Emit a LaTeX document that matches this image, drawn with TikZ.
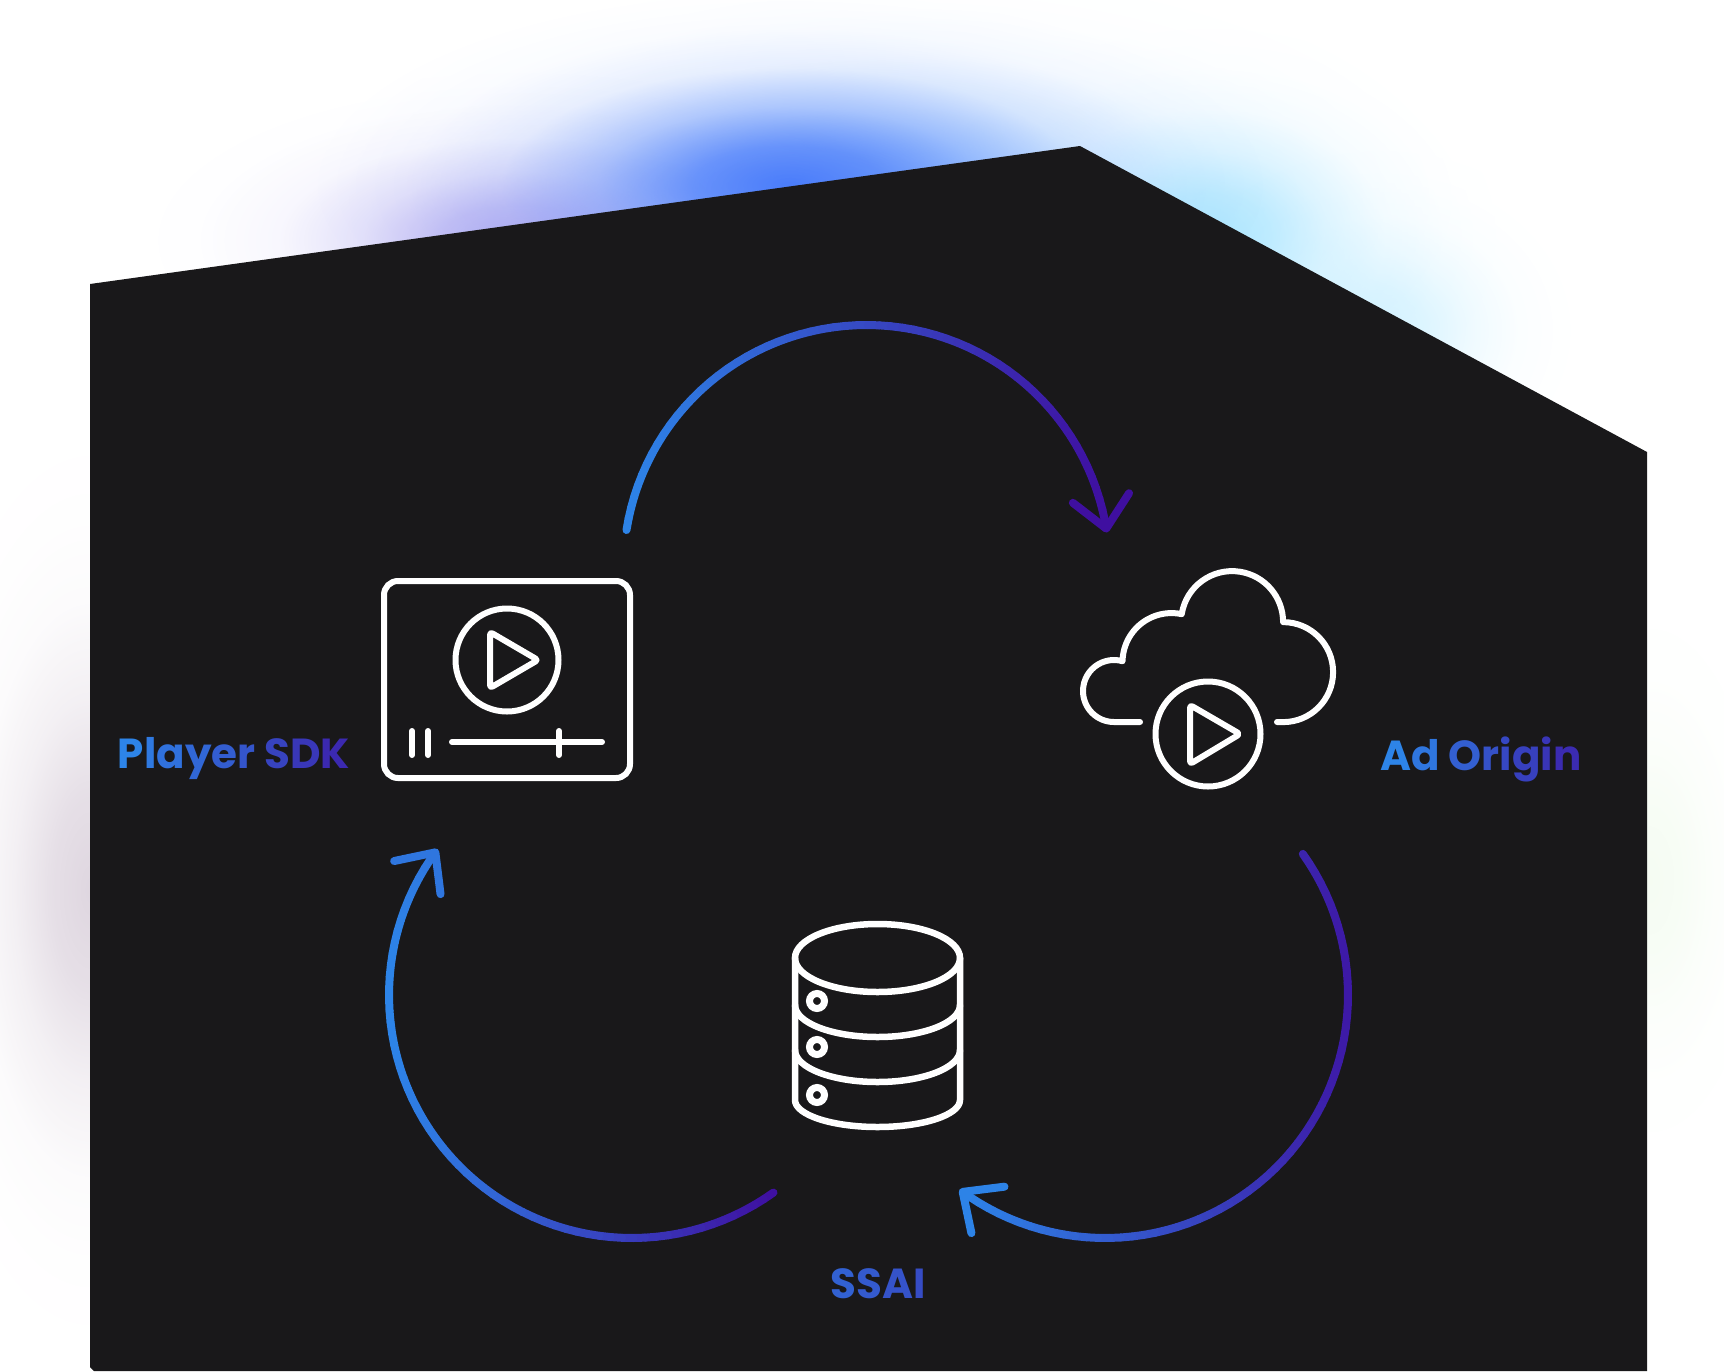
\documentclass[tikz,border=0pt]{standalone}
\usepackage{fontspec}
\setmainfont{Poppins}
\usetikzlibrary{calc,fadings,arrows.meta,shapes.geometric}

\definecolor{flowblue}{HTML}{2D84E8}
\definecolor{flowviolet}{HTML}{3F0FA0}
\definecolor{panel}{HTML}{19181A}
\definecolor{glowblue}{HTML}{4A7CFA}
\definecolor{glowsky}{HTML}{9CCBFF}
\definecolor{glowcyan}{HTML}{86DBFF}
\definecolor{glowviolet}{HTML}{8D84EA}
\definecolor{glowplum}{HTML}{C9BBCB}
\definecolor{glowgreen}{HTML}{DDF5D5}

\pgfdeclareradialshading{glowshade}{\pgfpoint{0bp}{0bp}}{rgb(0bp)=(1,1,1); rgb(5bp)=(0.78,0.78,0.78); rgb(10bp)=(0.37,0.37,0.37); rgb(15bp)=(0.1,0.1,0.1); rgb(20bp)=(0.02,0.02,0.02); rgb(25bp)=(0,0,0); rgb(50bp)=(0,0,0)}
\pgfdeclarefading{glowfade}{\pgfuseshading{glowshade}}

\tikzset{
    glow/.style={path fading=glowfade, fit fading=true},
    iconline/.style={draw=white, line width=6pt, line cap=round, line join=round},
    iconring/.style={draw=white, line width=6pt, circle, inner sep=0pt, outer sep=0pt, minimum size=#1},
    steplabel/.style={font=\fontsize{42}{42}\selectfont\bfseries, inner sep=0pt, anchor=base},
    flowseg/.style={line width=8pt, line cap=round}
}

% gradient arc, cut into short pieces: centre, from angle, to angle, cos at left end, cos at right end
\newcommand{\flowarc}[5]{
    \foreach \i in {1,...,60}{
        \pgfmathsetmacro{\anga}{#2+(#3-#2)*(\i-1)/60}
        \pgfmathsetmacro{\angb}{#2+(#3-#2)*\i/60}
        \pgfmathsetmacro{\mixval}{100*(cos((\anga+\angb)/2)-(#4))/((#5)-(#4))}
        \colorlet{segcol}{flowviolet!\mixval!flowblue}
        \ifnum\i=60
            \draw[flowseg, segcol, -{Straight Barb[round, length=31pt, width=57pt]}] ($(#1)+(\anga:243)$) -- ($(#1)+(\angb:243)$);
        \else
            \draw[flowseg, segcol] ($(#1)+(\anga:243)$) -- ($(#1)+(\angb:243)$);
        \fi
    }
}
\newcommand{\gradletter}[2]{\textcolor{flowviolet!#1!flowblue}{#2}}

\begin{document}
\begin{tikzpicture}[x=1pt, y=-1pt]

\useasboundingbox (0,0) rectangle (1724,1371);

% soft light behind the panel
\fill[glow, glowsky, fill opacity=.8] (900,200) ellipse (560 and 240);
\fill[glow, glowcyan, fill opacity=.65] (1210,235) ellipse (290 and 210);
\fill[glow, glowcyan, fill opacity=.35] (1380,330) ellipse (230 and 190);
\fill[glow, glowviolet, fill opacity=.65] (520,240) ellipse (400 and 170);
\fill[glow, glowblue] (790,185) ellipse (480 and 195);
\fill[glow, glowplum, fill opacity=.6] (90,890) ellipse (190 and 480);
\fill[glow, glowgreen, fill opacity=.3] (1650,880) ellipse (150 and 340);

\fill[panel] (90,284) -- (1080,146) -- (1647,452) -- (1647,1371) -- (94,1371) -- (90,1367) -- cycle;

% player
\node[draw=white, line width=6pt, inner sep=0pt, outer sep=0pt, rounded corners=14pt, minimum width=246pt, minimum height=197pt] (player) at (507,679.5) {};
\node[iconring=103pt] (playerring) at (507,660) {};
\draw[iconline, rounded corners=3pt] (490,632) -- (490,688) -- (538,660) -- cycle;
\draw[iconline] (412,731) -- (412,755);
\draw[iconline] (428,731) -- (428,755);
\draw[iconline] (452,742) -- (602,742);
\draw[iconline] (559,731) -- (559,755);

% cloud
\draw[iconline] (1140,722) -- (1114,722) arc (90:286:31) arc (181:282:49) arc (189:360:51) arc (270:450:50) -- (1277,722);
\node[iconring=105pt] (cloudring) at (1208,734) {};
\draw[iconline, rounded corners=3pt] (1190,705) -- (1190,764) -- (1240,734) -- cycle;

% database
\node[draw=white, line width=6.5pt, ellipse, inner sep=0pt, outer sep=0pt, minimum width=165pt, minimum height=68pt] (dbtop) at (877.5,958) {};
\draw[iconline, line width=6.5pt] (795,958) -- (795,1100) arc (180:0:82.5 and 27) -- (960,958);
\draw[iconline, line width=6.5pt] (795,1005) arc (180:0:82.5 and 32);
\draw[iconline, line width=6.5pt] (795,1050) arc (180:0:82.5 and 32);
\foreach \y/\n in {1001/a,1047/b,1095/c}{
    \node[draw=white, line width=7pt, circle, inner sep=0pt, outer sep=0pt, minimum size=15pt] (dbdot\n) at (817,\y) {};
}

% labels
\node[steplabel] (sdklabel) at (234,768) {\gradletter{0}{P}\gradletter{9}{l}\gradletter{16}{a}\gradletter{25}{y}\gradletter{33}{e}\gradletter{40}{r} \gradletter{56}{S}\gradletter{66}{D}\gradletter{78}{K}};
\node[steplabel] (originlabel) at (1481,770) {\gradletter{0}{A}\gradletter{12}{d} \gradletter{32}{O}\gradletter{44}{r}\gradletter{52}{i}\gradletter{58}{g}\gradletter{68}{i}\gradletter{76}{n}};
\node[steplabel] (ssailabel) at (878,1298) {\gradletter{30}{S}\gradletter{36}{S}\gradletter{42}{A}\gradletter{48}{I}};

% flow arcs
\coordinate (toparc) at (866.5,568);
\coordinate (rightarc) at (1105,995);
\coordinate (leftarc) at (632,995);
\flowarc{toparc}{189}{351.6}{-0.99}{0.99}
\flowarc{rightarc}{-35.5}{126.8}{-0.6}{1.15}
\flowarc{leftarc}{54.4}{216.9}{-1}{0.58}

\end{tikzpicture}
\end{document}
